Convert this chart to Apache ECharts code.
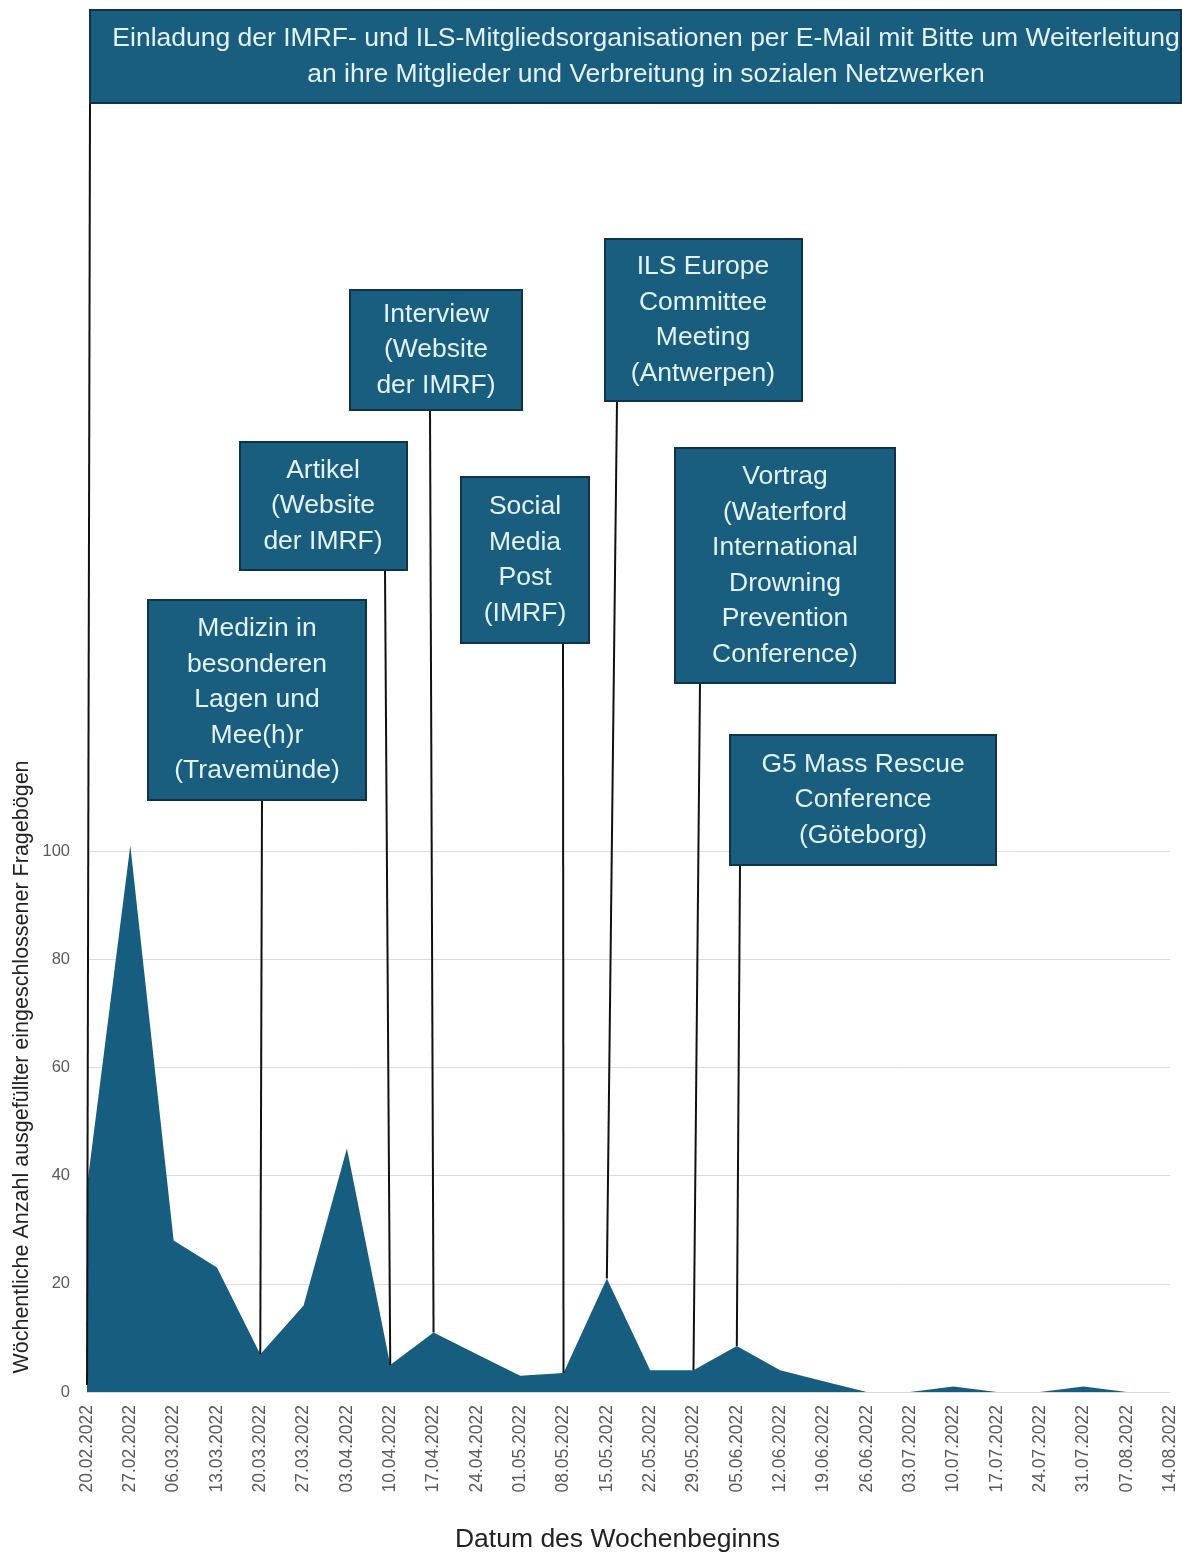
<!DOCTYPE html>
<html>
<head>
<meta charset="utf-8">
<script src="https://cdn.jsdelivr.net/npm/echarts@6/dist/echarts.min.js"></script>
<style>
  html, body { margin: 0; padding: 0; background: #ffffff; }
  #chart { width: 1182px; height: 1555px; }
</style>
</head>
<body>
<div id="chart"></div>
<script>
// Week start dates (x axis categories)
const weeks = [
  '20.02.2022', '27.02.2022', '06.03.2022', '13.03.2022', '20.03.2022', '27.03.2022',
  '03.04.2022', '10.04.2022', '17.04.2022', '24.04.2022', '01.05.2022', '08.05.2022',
  '15.05.2022', '22.05.2022', '29.05.2022', '05.06.2022', '12.06.2022', '19.06.2022',
  '26.06.2022', '03.07.2022', '10.07.2022', '17.07.2022', '24.07.2022', '31.07.2022',
  '07.08.2022', '14.08.2022'
];

// Completed questionnaires per week
const responses = [
  38, 101, 28, 23, 7, 16,
  45, 5, 11, 7, 3, 3.5,
  21, 4, 4, 8.5, 4, 2,
  0, 0, 1, 0, 0, 1,
  0, 0
];

// Y axis ticks
const yTicks = [0, 20, 40, 60, 80, 100];

// Recruitment events and the week they point to
const eventWeeks = [
  '20.02.2022', '20.03.2022', '10.04.2022', '17.04.2022',
  '08.05.2022', '15.05.2022', '29.05.2022', '05.06.2022'
];
const eventTexts = [
  'Einladung der IMRF- und ILS-Mitgliedsorganisationen per E-Mail mit Bitte um Weiterleitung\nan ihre Mitglieder und Verbreitung in sozialen Netzwerken',
  'Medizin in\nbesonderen\nLagen und\nMee(h)r\n(Travemünde)',
  'Artikel\n(Website\nder IMRF)',
  'Interview\n(Website\nder IMRF)',
  'Social\nMedia\nPost\n(IMRF)',
  'ILS Europe\nCommittee\nMeeting\n(Antwerpen)',
  'Vortrag\n(Waterford\nInternational\nDrowning\nPrevention\nConference)',
  'G5 Mass Rescue\nConference\n(Göteborg)'
];

// Callout box layout: [left, top, width, height, connector x at box bottom, text centre x]
const boxLayout = [
  [90, 10, 1091, 93, 90, 646],
  [148, 600, 218, 200, 262, 257],
  [240, 442, 167, 128, 385, 323],
  [350, 290, 172, 120, 430, 436],
  [461, 477, 128, 166, 563, 525],
  [605, 239, 197, 162, 617, 703],
  [675, 448, 220, 235, 700, 785],
  [730, 735, 266, 130, 740, 863]
];

const BOX_FILL = '#195d7f';
const BOX_BORDER = '#0f3447';
const BOX_TEXT = '#e3f2f7';
const AREA_FILL = '#175d80';
const FONT = '"Liberation Sans", Arial, sans-serif';
const Y_NAME = 'Wöchentliche Anzahl ausgefüllter eingeschlossener Fragebögen';

const chart = echarts.init(document.getElementById('chart'), null, { renderer: 'canvas' });

chart.setOption({
  backgroundColor: '#ffffff',
  animation: false,
  grid: { left: 87, right: 12, top: 851, bottom: 163, containLabel: false, outerBoundsMode: 'none' },
  xAxis: {
    type: 'category',
    data: weeks,
    boundaryGap: false,
    name: 'Datum des Wochenbeginns',
    nameLocation: 'middle',
    nameGap: 134,
    nameTextStyle: { fontFamily: FONT, fontSize: 26.5, color: '#222', padding: [0, 22, 0, 0] },
    axisLine: { show: true, lineStyle: { color: '#d9d9d9', width: 1 } },
    axisTick: { show: false },
    axisLabel: {
      rotate: 90,
      interval: 0,
      margin: 13,
      fontFamily: FONT,
      fontSize: 17.5,
      color: '#5a5a5a'
    },
    splitLine: { show: false }
  },
  yAxis: {
    type: 'value',
    min: yTicks[0],
    max: yTicks[yTicks.length - 1],
    interval: yTicks[1] - yTicks[0],
    axisLine: { show: false },
    axisTick: { show: false },
    axisLabel: { fontFamily: FONT, fontSize: 16.5, color: '#5a5a5a', margin: 17 },
    splitLine: { show: true, lineStyle: { color: '#dcdcdc', width: 1 } }
  },
  series: [{
    type: 'line',
    data: responses,
    clip: false,
    symbol: 'none',
    lineStyle: { width: 0 },
    areaStyle: { color: AREA_FILL, opacity: 1 },
    z: 2
  }]
});

// Connectors and callout boxes, anchored to the data through the chart's own scales
function drawCallouts() {
  const elements = [];
  eventWeeks.forEach(function (week, i) {
    const idx = weeks.indexOf(week);
    const value = i === 0 ? 0 : responses[idx];
    const pt = chart.convertToPixel({ seriesIndex: 0 }, [idx, value]);
    const b = boxLayout[i];
    elements.push({
      type: 'line',
      z: 10,
      shape: { x1: b[4], y1: b[1] + b[3], x2: pt[0], y2: pt[1] - (i === 0 ? 7 : 0) },
      style: { stroke: '#111111', lineWidth: 2 }
    });
  });
  eventTexts.forEach(function (txt, i) {
    const b = boxLayout[i];
    elements.push({
      type: 'rect',
      z: 20,
      shape: { x: b[0], y: b[1], width: b[2], height: b[3] },
      style: { fill: BOX_FILL, stroke: BOX_BORDER, lineWidth: 2 }
    });
    elements.push({
      type: 'text',
      z: 21,
      x: b[5],
      y: b[1] + b[3] / 2,
      style: {
        text: txt,
        font: '26.5px ' + FONT,
        fill: BOX_TEXT,
        lineHeight: 35.5,
        textAlign: 'center',
        textVerticalAlign: 'middle'
      }
    });
  });
  // Y axis title
  elements.push({
    type: 'text',
    x: 22,
    y: 1067,
    rotation: Math.PI / 2,
    style: {
      text: Y_NAME,
      font: '21.5px ' + FONT,
      fill: '#222',
      textAlign: 'center',
      textVerticalAlign: 'middle'
    }
  });
  chart.setOption({ graphic: elements });
}
drawCallouts();
</script>
</body>
</html>
